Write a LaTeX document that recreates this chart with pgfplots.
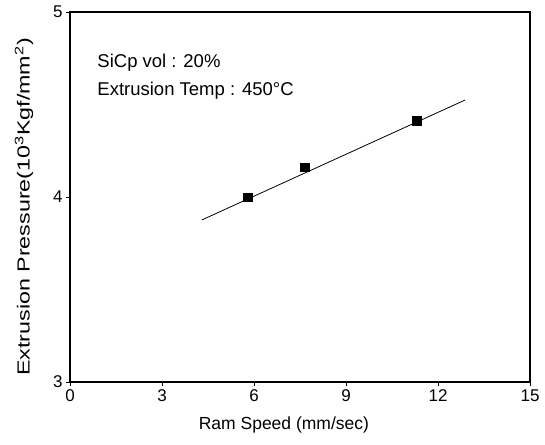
\documentclass[border=0pt]{standalone}
\usepackage{fontspec}
\setmainfont{Liberation Sans}
\usepackage{graphicx}
\usepackage{pgfplots}
\pgfplotsset{compat=1.18}

\begin{document}
\begin{tikzpicture}
  \begin{axis}[
      scale only axis,
      width=460pt, height=370pt,
      xmin=0, xmax=15, ymin=3, ymax=5,
      xtick={0,3,...,15}, ytick={3,4,5},
      axis lines*=box,
      tick pos=left,
      tick align=outside,
      major tick length=4pt,
      axis line style={line width=1.1pt},
      every tick/.style={black, line width=0.8pt},
      tick label style={font=\fontsize{17}{19}\selectfont},
      /pgf/number format/assume math mode=true,
      xlabel={Ram Speed (mm/sec)},
      ylabel={\scalebox{1.33}[1]{Extrusion Pressure(10\textsuperscript{3}Kgf/mm\textsuperscript{2})}},
      every axis x label/.style={at={(axis description cs:0.465,-0.116)}, anchor=center,
        font=\fontsize{17.5}{19}\selectfont},
      every axis y label/.style={at={(axis description cs:-0.1,0.473)}, anchor=center, rotate=90,
        font=\fontsize{17.5}{19}\selectfont},
      clip=false,
    ]
    % fitted line
    \addplot[black, line width=0.8pt] coordinates {
      (4.3, 3.876)
      (12.88, 4.524)
    };
    % measured points
    \addplot[only marks, mark=square*, mark size=4.2pt, black] coordinates {
      (5.8, 4.00)
      (7.65, 4.16)
      (11.3, 4.413)
    };
    \node[anchor=base west, font=\fontsize{18.5}{20}\selectfont] at (axis cs:0.78,4.70) {SiCp vol : 20\%};
    \node[anchor=base west, font=\fontsize{18.5}{20}\selectfont] at (axis cs:0.78,4.55) {Extrusion Temp : 450°C};
    % picture margins as in the reference
    \path (rel axis cs:0,0) ++(-70pt,-62pt);
    \path (rel axis cs:1,1) ++(15pt,12pt);
  \end{axis}
\end{tikzpicture}
\end{document}
